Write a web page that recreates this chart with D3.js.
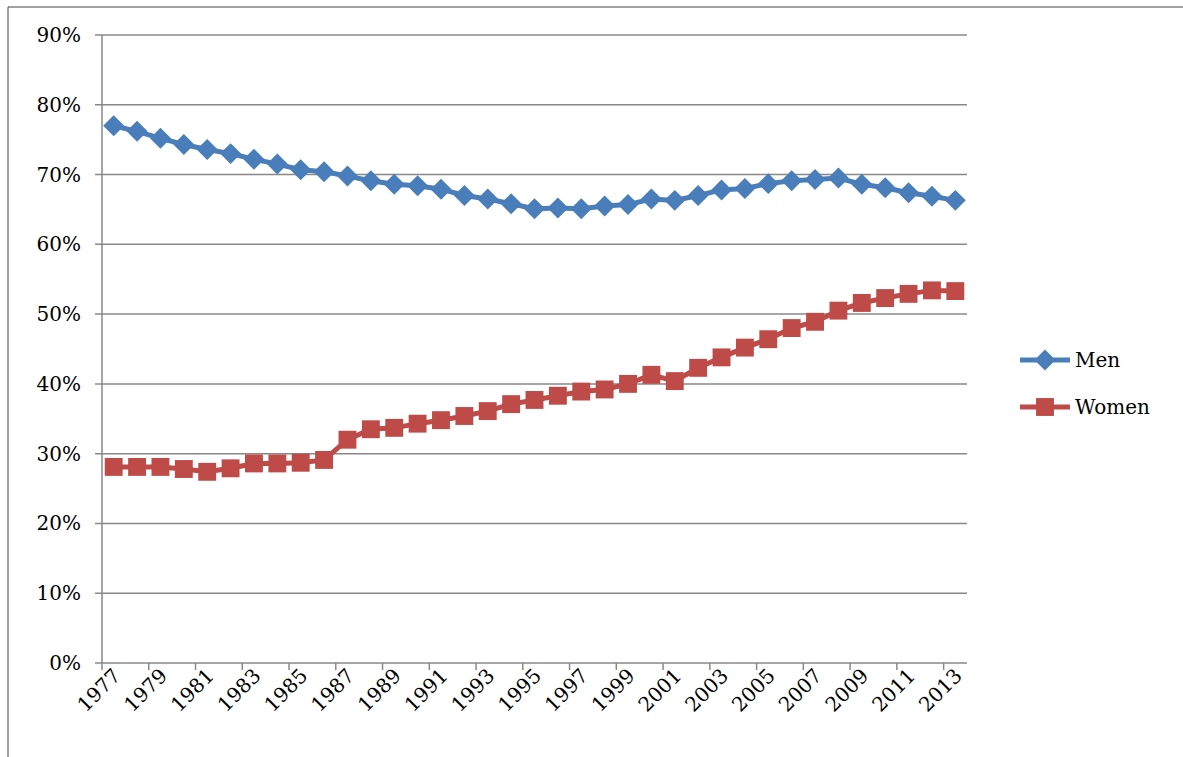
<!DOCTYPE html>
<html><head><meta charset="utf-8">
<script src="https://cdn.jsdelivr.net/npm/d3@7"></script>
<style>body{margin:0;background:#fff}svg{display:block}text{font-family:"DejaVu Serif",serif}</style>
</head><body><svg id="chart" width="1183" height="757"></svg>
<script>
var years = d3.range(1977, 2014);
var men = [77.0, 76.2, 75.2, 74.3, 73.6, 73.0, 72.2, 71.5, 70.7, 70.4, 69.8, 69.1, 68.6, 68.4, 67.9, 67.0, 66.5, 65.8, 65.1, 65.2, 65.1, 65.5, 65.7, 66.5, 66.3, 67.0, 67.8, 68.0, 68.7, 69.1, 69.3, 69.5, 68.6, 68.1, 67.4, 66.9, 66.3];
var women = [28.1, 28.1, 28.1, 27.8, 27.4, 27.9, 28.6, 28.6, 28.7, 29.1, 32.0, 33.5, 33.7, 34.3, 34.8, 35.4, 36.1, 37.1, 37.7, 38.3, 38.9, 39.2, 40.0, 41.3, 40.4, 42.3, 43.8, 45.2, 46.4, 48.0, 48.9, 50.5, 51.6, 52.3, 52.9, 53.4, 53.3];
var yTicks = d3.range(0, 91, 10);

var svg = d3.select('#chart');
var mLeft = 102, mRight = 967, mTop = 35, mBottom = 663;

// frame around the figure
svg.append('line').attr('x1', 8).attr('x2', 1183).attr('y1', 7).attr('y2', 7).attr('stroke', '#444');
svg.append('line').attr('x1', 8).attr('x2', 8).attr('y1', 7).attr('y2', 757).attr('stroke', '#444');

var x = d3.scaleBand().domain(years).range([mLeft, mRight]);
var y = d3.scaleLinear().domain([0, 90]).range([mBottom, mTop]);

// gridlines
svg.append('g').selectAll('line').data(yTicks).join('line')
  .attr('x1', mLeft - 7).attr('x2', mRight).attr('y1', d => y(d)).attr('y2', d => y(d))
  .attr('stroke', '#888').attr('stroke-width', 1.5);
svg.append('g').selectAll('text').data(yTicks).join('text')
  .attr('x', 81).attr('y', d => y(d) + 7).attr('text-anchor', 'end')
  .style('font-size', '20px').text(d => d + '%');

// axes
svg.append('line').attr('x1', mLeft).attr('x2', mLeft).attr('y1', mTop).attr('y2', mBottom).attr('stroke', '#888').attr('stroke-width', 1.5);
svg.append('g').selectAll('line').data(years.concat([2014]).filter((d, i) => i % 2 === 0)).join('line')
  .attr('x1', d => d === 2014 ? mRight : x(d)).attr('x2', d => d === 2014 ? mRight : x(d))
  .attr('y1', mBottom).attr('y2', mBottom + 7).attr('stroke', '#888').attr('stroke-width', 1.5);
svg.append('g').selectAll('text').data(years.filter((d, i) => i % 2 === 0)).join('text')
  .attr('transform', d => 'translate(' + (x(d) + x.bandwidth() / 2 + 8) + ',' + (mBottom + 14) + ') rotate(-45)')
  .attr('text-anchor', 'end').style('font-size', '20px').text(d => d);

var cx = d => x(d) + x.bandwidth() / 2;
var series = [
  {name: 'Men', values: men, color: '#4a7ebb', size: 220, rot: 45, ly: 360},
  {name: 'Women', values: women, color: '#be4b48', size: 320, rot: 0, ly: 407}
];
series.forEach(function(s) {
  var line = d3.line().x((d, i) => cx(years[i])).y(d => y(d));
  svg.append('path').datum(s.values).attr('d', line).attr('fill', 'none')
    .attr('stroke', s.color).attr('stroke-width', 5);
  var sym = d3.symbol().type(d3.symbolSquare).size(s.size);
  svg.append('g').selectAll('path').data(s.values).join('path')
    .attr('transform', (d, i) => 'translate(' + cx(years[i]) + ',' + y(d) + ') rotate(' + s.rot + ')')
    .attr('d', sym).attr('fill', s.color);
  // legend
  svg.append('line').attr('x1', 1020).attr('x2', 1070).attr('y1', s.ly).attr('y2', s.ly)
    .attr('stroke', s.color).attr('stroke-width', 5);
  svg.append('path').attr('transform', 'translate(1045,' + s.ly + ') rotate(' + s.rot + ')').attr('d', sym).attr('fill', s.color);
  svg.append('text').attr('x', 1075).attr('y', s.ly + 7).style('font-size', '20px').text(s.name);
});
</script></body></html>
